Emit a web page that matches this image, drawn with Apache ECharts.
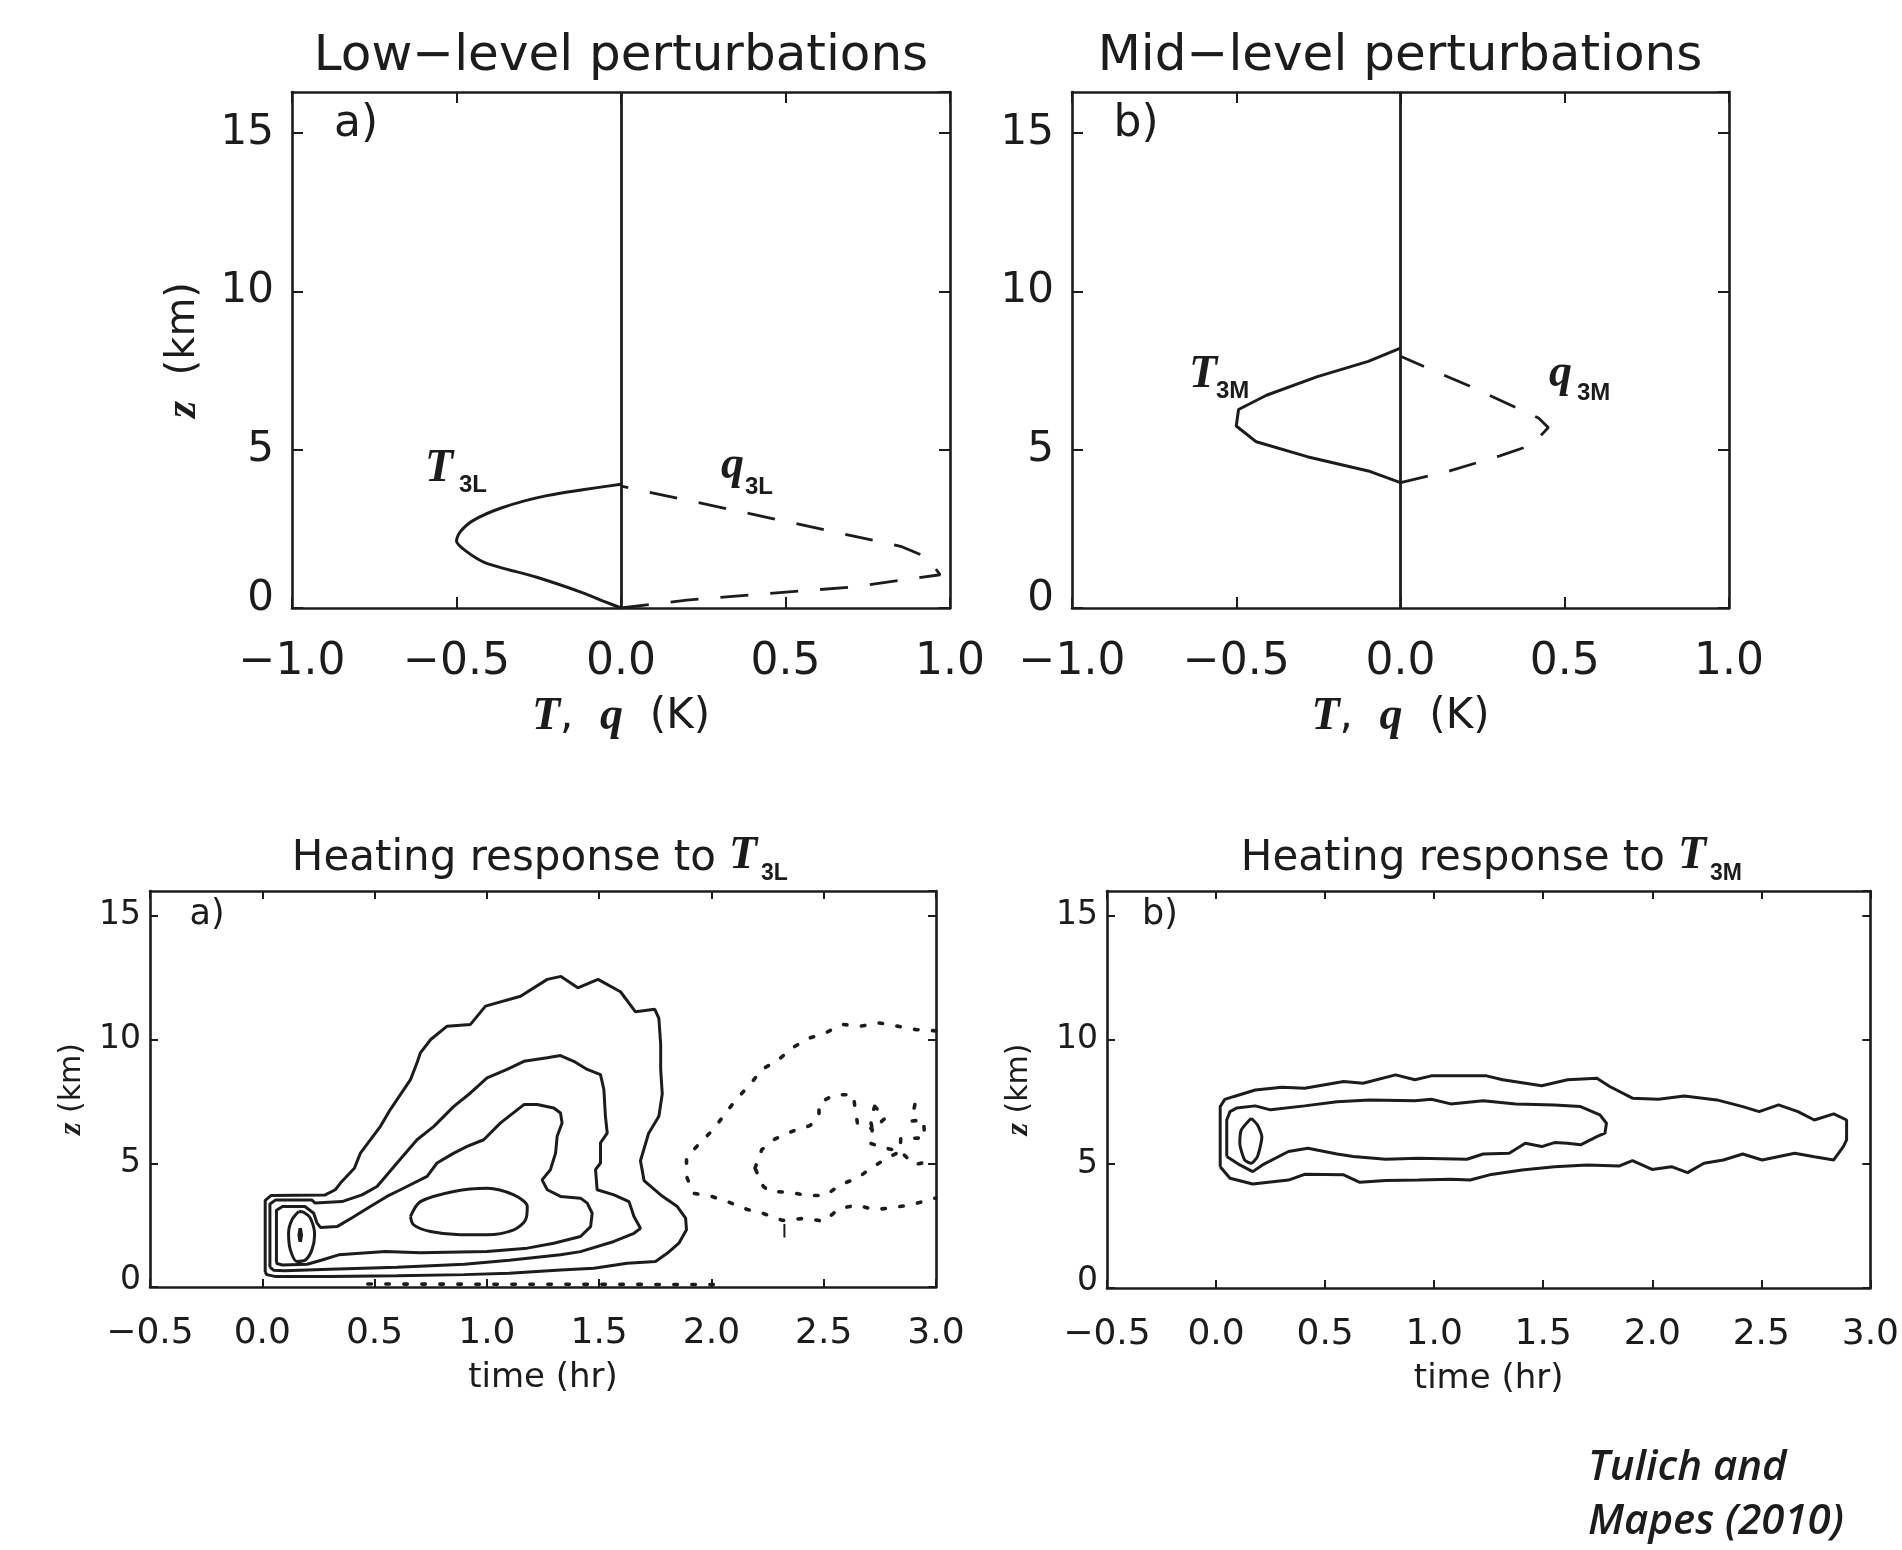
<!DOCTYPE html>
<html>
<head>
<meta charset="utf-8">
<script src="https://cdn.jsdelivr.net/npm/echarts@6/dist/echarts.min.js"></script>
<style>
html, body { margin: 0; padding: 0; background: #ffffff; }
#chart { width: 1902px; height: 1550px; }
</style>
</head>
<body>
<div id="chart"></div>
<script>
// ---- Vertical profiles of the imposed perturbations: [T or q (K), z (km)] ----
const T3L = [[0, 0], [-0.054, 0.22], [-0.116, 0.48], [-0.256, 0.97], [-0.41, 1.42], [-0.47, 1.79],
  [-0.5, 2.12], [-0.49, 2.39], [-0.45, 2.76], [-0.364, 3.16], [-0.225, 3.55], [0, 3.91]];
const q3L = [[0, 0], [0.2, 0.25], [0.4, 0.42], [0.7, 0.66], [0.97, 1.05], [0.93, 1.6], [0.85, 1.95],
  [0.45, 2.85], [0, 3.85]];
const T3M = [[0, 3.96], [-0.098, 4.33], [-0.284, 4.78], [-0.439, 5.25], [-0.5, 5.75], [-0.493, 6.27],
  [-0.408, 6.72], [-0.253, 7.31], [-0.098, 7.79], [0, 8.21]];
const q3M = [[0, 3.96], [0.15, 4.33], [0.3, 4.8], [0.4, 5.15], [0.45, 5.7], [0.42, 6.0], [0.21, 7.01], [0, 7.95]];

// ---- Heating response to T3L: contour lines [time (hr), z (km)] ----
const heatL_c1 = [[0.013, 0.6], [0.013, 3.5], [0.04, 3.7], [0.28, 3.72], [0.325, 3.93], [0.348, 4.2], [0.41, 4.8],
  [0.437, 5.41], [0.526, 6.49], [0.57, 7.17], [0.66, 8.38], [0.689, 9.06], [0.704, 9.46], [0.75, 10.0],
  [0.823, 10.54], [0.927, 10.61], [0.994, 11.35], [1.15, 11.75], [1.269, 12.43], [1.33, 12.55], [1.405, 12.09],
  [1.495, 12.43], [1.595, 11.93], [1.662, 11.12], [1.748, 11.22], [1.766, 10.85], [1.774, 9.8], [1.774, 8.8],
  [1.781, 7.8], [1.766, 6.9], [1.72, 6.2], [1.684, 5.1], [1.7, 4.3], [1.774, 3.72], [1.848, 3.25], [1.885, 2.78],
  [1.889, 2.31], [1.855, 1.77], [1.803, 1.36], [1.751, 1.03], [1.625, 0.96], [1.477, 0.76], [1.328, 0.69],
  [1.1, 0.56], [0.9, 0.5], [0.6, 0.45], [0.3, 0.42], [0.06, 0.42], [0.02, 0.5], [0.013, 0.6]];
const heatL_c2 = [[0.034, 0.8], [0.034, 3.35], [0.06, 3.52], [0.22, 3.52], [0.236, 3.39], [0.355, 3.45],
  [0.444, 3.72], [0.511, 4.06], [0.6, 5.01], [0.689, 5.95], [0.764, 6.49], [0.853, 7.3], [0.927, 7.84],
  [1.001, 8.45], [1.09, 8.79], [1.165, 9.12], [1.269, 9.26], [1.328, 9.35], [1.387, 9.12], [1.447, 8.79],
  [1.506, 8.58], [1.521, 7.98], [1.528, 6.9], [1.536, 6.22], [1.506, 5.82], [1.506, 5.01], [1.484, 4.74],
  [1.491, 3.93], [1.566, 3.72], [1.633, 3.45], [1.655, 2.85], [1.684, 2.37], [1.655, 2.17], [1.566, 1.84],
  [1.417, 1.43], [1.328, 1.3], [1.1, 1.08], [0.9, 0.92], [0.6, 0.8], [0.3, 0.72], [0.1, 0.66], [0.05, 0.68],
  [0.034, 0.8]];
const heatL_c3 = [[0.063, 1.0], [0.063, 3.1], [0.09, 3.25], [0.19, 3.25], [0.229, 2.98], [0.244, 2.58],
  [0.26, 2.4], [0.333, 2.44], [0.4, 2.8], [0.481, 3.25], [0.555, 3.66], [0.615, 3.93], [0.734, 4.47],
  [0.778, 5.01], [0.853, 5.41], [0.912, 5.68], [0.986, 5.95], [1.061, 6.63], [1.165, 7.37], [1.224, 7.37],
  [1.298, 7.23], [1.328, 7.03], [1.335, 6.63], [1.313, 6.09], [1.306, 5.41], [1.283, 4.74], [1.246, 4.33],
  [1.269, 3.93], [1.328, 3.66], [1.417, 3.59], [1.447, 3.39], [1.469, 2.98], [1.462, 2.44], [1.417, 2.04],
  [1.298, 1.77], [1.18, 1.57], [1.0, 1.43], [0.704, 1.38], [0.548, 1.43], [0.34, 1.3], [0.266, 1.09],
  [0.2, 0.92], [0.09, 0.89], [0.065, 0.95], [0.063, 1.0]];
const heatL_c4 = [[0.66, 2.85], [0.704, 3.45], [0.853, 3.86], [1.001, 3.99], [1.12, 3.72], [1.18, 3.25],
  [1.172, 2.71], [1.12, 2.31], [1.001, 2.11], [0.882, 2.11], [0.749, 2.24], [0.674, 2.51], [0.66, 2.85]];
const heatL_c5 = [[0.162, 3.05], [0.132, 2.71], [0.117, 2.17], [0.125, 1.5], [0.155, 1.03], [0.192, 1.09],
  [0.221, 1.5], [0.233, 2.11], [0.214, 2.78], [0.184, 3.02], [0.162, 3.05]];
const heatL_c6 = [[0.169, 2.37], [0.174, 2.1], [0.169, 1.83], [0.164, 2.1], [0.169, 2.37]];
// negative (dotted) contours
const heatL_n1 = [[3.0, 10.35], [2.91, 10.4], [2.828, 10.54], [2.747, 10.67], [2.665, 10.54], [2.583, 10.61],
  [2.509, 10.27], [2.427, 10.03], [2.36, 9.66], [2.294, 9.15], [2.224, 8.79], [2.172, 8.18], [2.112, 7.6],
  [2.06, 6.99], [2.008, 6.36], [1.949, 5.82], [1.889, 5.24], [1.889, 4.47], [1.919, 3.79], [2.001, 3.66],
  [2.083, 3.41], [2.157, 3.14], [2.234, 2.96], [2.316, 2.69], [2.42, 2.78], [2.501, 2.65], [2.568, 3.17],
  [2.65, 3.31], [2.727, 3.12], [2.807, 3.21], [2.888, 3.32], [2.969, 3.52], [3.0, 3.6]];
const heatL_n2 = [[2.194, 4.8], [2.224, 5.55], [2.283, 5.98], [2.36, 6.29], [2.439, 6.52], [2.479, 6.9],
  [2.479, 7.44], [2.551, 7.77], [2.632, 7.77], [2.638, 7.33], [2.65, 6.63], [2.717, 6.38], [2.702, 5.82],
  [2.776, 5.61], [2.843, 5.48], [2.788, 5.24], [2.717, 4.84], [2.65, 4.4], [2.573, 4.13], [2.509, 3.7],
  [2.427, 3.7], [2.345, 3.83], [2.261, 3.86], [2.231, 4.06], [2.194, 4.8]];
const heatL_n3 = [[2.727, 7.3], [2.776, 6.83], [2.717, 6.38], [2.707, 6.76], [2.727, 7.3]];
const heatL_n4 = [[2.906, 7.37], [2.89, 6.7], [2.944, 6.76], [2.95, 6.02], [2.843, 6.0], [2.84, 5.5],
  [2.902, 4.94], [2.96, 5.05]];
const heatL_n5 = [[0.47, 0.12], [2.04, 0.1]];
const heatL_n6 = [[2.325, 2.55], [2.325, 2.0]];

// ---- Heating response to T3M: contour lines [time (hr), z (km)] ----
const heatM_c1 = [[0.019, 4.89], [0.019, 7.31], [0.04, 7.6], [0.079, 7.71], [0.18, 7.98], [0.302, 8.09],
  [0.406, 8.05], [0.585, 8.32], [0.674, 8.25], [0.823, 8.59], [0.912, 8.39], [0.987, 8.55], [1.24, 8.55],
  [1.314, 8.39], [1.493, 8.15], [1.612, 8.39], [1.746, 8.45], [1.805, 8.12], [1.909, 7.65], [2.028, 7.61],
  [2.147, 7.74], [2.296, 7.58], [2.415, 7.31], [2.49, 7.11], [2.579, 7.38], [2.668, 7.11], [2.743, 6.77],
  [2.832, 7.02], [2.891, 6.77], [2.891, 5.97], [2.876, 5.7], [2.832, 5.16], [2.743, 5.29], [2.653, 5.43],
  [2.504, 5.16], [2.415, 5.4], [2.326, 5.16], [2.237, 5.03], [2.162, 4.65], [2.088, 4.89], [1.999, 4.78],
  [1.909, 5.13], [1.85, 4.92], [1.701, 4.96], [1.552, 4.89], [1.403, 4.76], [1.254, 4.56], [1.165, 4.35],
  [1.076, 4.38], [0.927, 4.35], [0.778, 4.33], [0.659, 4.26], [0.585, 4.56], [0.406, 4.58], [0.332, 4.35],
  [0.168, 4.19], [0.064, 4.42], [0.019, 4.89]];
const heatM_c2 = [[0.049, 5.3], [0.049, 6.77], [0.064, 7.11], [0.094, 7.25], [0.18, 7.34], [0.25, 7.18],
  [0.406, 7.34], [0.555, 7.51], [0.704, 7.58], [0.912, 7.55], [0.987, 7.61], [1.076, 7.42], [1.225, 7.55],
  [1.374, 7.42], [1.552, 7.38], [1.671, 7.31], [1.76, 6.98], [1.79, 6.64], [1.783, 6.24], [1.746, 6.1],
  [1.671, 5.77], [1.612, 5.83], [1.552, 5.86], [1.493, 5.7], [1.418, 5.83], [1.344, 5.43], [1.225, 5.4],
  [1.15, 5.19], [0.927, 5.23], [0.778, 5.19], [0.629, 5.3], [0.555, 5.4], [0.421, 5.63], [0.332, 5.5],
  [0.213, 4.96], [0.168, 4.69], [0.109, 4.96], [0.049, 5.3]];
const heatM_c3 = [[0.161, 6.84], [0.116, 6.37], [0.109, 5.83], [0.131, 5.16], [0.161, 5.03], [0.19, 5.3],
  [0.21, 6.1], [0.19, 6.57], [0.161, 6.84]];

// ---- axis ranges and ticks ----
const profileX = [-1, 1, 0.5];     // min, max, interval (K)
const profileZ = [0, 16.3, 5];     // km
const timeX = [-0.5, 3.0, 0.5];    // hr
const heatZ = [0, 16, 5];          // km

const SANS = '"DejaVu Sans", "Liberation Sans", sans-serif';
const SERIF = '"Liberation Serif", "DejaVu Serif", serif';
const INK = '#1c1c1c';

const grids = [
  { left: 292, top: 92, width: 658, height: 516 },
  { left: 1072, top: 92, width: 657, height: 516 },
  { left: 150, top: 891, width: 786, height: 396 },
  { left: 1107, top: 891, width: 784, height: 397 }
];

const fmtX = v => v.toFixed(1).replace('-', '\u2212');

function xAxesFor(gi, range, s) {
  const common = {
    type: 'value', gridIndex: gi, min: range[0], max: range[1], interval: range[2],
    splitLine: { show: false },
    axisLine: { show: true, onZero: false, lineStyle: { color: INK, width: 2.6 } },
    axisTick: { show: true, inside: true, length: s.tick, lineStyle: { color: INK, width: 2 } }
  };
  return [
    Object.assign({}, common, {
      position: 'bottom',
      axisLabel: { show: true, formatter: fmtX, fontFamily: SANS, fontSize: s.label, color: INK, margin: s.xMargin },
      name: s.xName, nameLocation: 'middle', nameGap: s.xGap,
      nameTextStyle: { fontFamily: SANS, fontSize: s.xNameSize, color: INK, rich: s.xRich }
    }),
    Object.assign({}, common, { position: 'top', axisLabel: { show: false } })
  ];
}

function yAxesFor(gi, range, s) {
  const common = {
    type: 'value', gridIndex: gi, min: range[0], max: range[1], interval: range[2],
    splitLine: { show: false },
    axisLine: { show: true, onZero: false, lineStyle: { color: INK, width: 2.6 } },
    axisTick: { show: true, inside: true, length: s.tick, lineStyle: { color: INK, width: 2 } }
  };
  const left = Object.assign({}, common, {
    position: 'left',
    axisLabel: {
      show: true, showMaxLabel: false, fontFamily: SANS, fontSize: s.ylabel, color: INK, margin: s.yMargin,
      formatter: v => (v === 0 ? '{lo|0}' : String(v)),
      rich: { lo: { fontFamily: SANS, fontSize: s.ylabel, color: INK, padding: [0, 0, s.zeroLift, 0] } }
    }
  });
  if (s.yName) {
    Object.assign(left, {
      name: s.yName, nameLocation: 'middle', nameGap: s.yGap,
      nameTextStyle: { fontFamily: SANS, fontSize: s.yNameSize, color: INK, rich: s.yRich }
    });
  }
  return [left, Object.assign({}, common, { position: 'right', axisLabel: { show: false } })];
}

const italicRich = (size, nsize) => ({
  i: { fontFamily: SERIF, fontStyle: 'italic', fontWeight: 'bold', fontSize: size, color: INK },
  n: { fontFamily: SANS, fontSize: nsize, color: INK }
});

const topStyle = {
  tick: 11, label: 44, ylabel: 42, xMargin: 33, yMargin: 18, zeroLift: 18,
  xName: '{i|T}{n|,  }{i|q}{n|  (K)}', xGap: 86, xNameSize: 42, xRich: italicRich(46, 42),
  yName: '{i|z}{n|  (km)}', yGap: 86, yNameSize: 42, yRich: italicRich(44, 40)
};
const botStyle = {
  tick: 8, label: 36, ylabel: 33, xMargin: 29, yMargin: 9, zeroLift: 14,
  xName: 'time (hr)', xGap: 74, xNameSize: 34, xRich: {},
  yName: '{i|z}{n| (km)}', yGap: 62, yNameSize: 30, yRich: italicRich(32, 30)
};

const xAxis = [].concat(
  xAxesFor(0, profileX, topStyle),
  xAxesFor(1, profileX, topStyle),
  xAxesFor(2, timeX, botStyle),
  xAxesFor(3, timeX, botStyle)
);
const yAxis = [].concat(
  yAxesFor(0, profileZ, topStyle),
  yAxesFor(1, profileZ, Object.assign({}, topStyle, { yName: null })),
  yAxesFor(2, heatZ, botStyle),
  yAxesFor(3, heatZ, Object.assign({}, botStyle, { yGap: 72 }))
);

function curve(gi, data, style, extra) {
  return Object.assign({
    type: 'line', xAxisIndex: gi * 2, yAxisIndex: gi * 2, data: data,
    showSymbol: false, symbol: 'none', silent: true, animation: false, smooth: false,
    lineStyle: Object.assign({ color: INK, width: 3, type: 'solid' }, style)
  }, extra || {});
}

const zeroLine = {
  silent: true, symbol: 'none', animation: false, label: { show: false },
  lineStyle: { color: INK, width: 2.8, type: 'solid' },
  data: [{ xAxis: 0 }]
};
const dashed = { type: [28, 22], width: 2.8 };
const dotted = { type: [3.5, 14.5], width: 3.6, cap: 'round' };

const series = [
  curve(0, T3L, {}, { smooth: 0.25, markLine: zeroLine }),
  curve(0, q3L, dashed),
  curve(1, T3M, {}, { markLine: zeroLine }),
  curve(1, q3M, dashed),
  curve(2, heatL_c1, {}), curve(2, heatL_c2, {}), curve(2, heatL_c3, {}),
  curve(2, heatL_c4, {}, { smooth: 0.3 }), curve(2, heatL_c5, {}, { smooth: 0.3 }),
  curve(2, heatL_c6, { width: 3.4 }),
  curve(2, heatL_n1, dotted), curve(2, heatL_n2, dotted), curve(2, heatL_n3, dotted),
  curve(2, heatL_n4, dotted), curve(2, heatL_n5, dotted), curve(2, heatL_n6, { width: 2 }),
  curve(3, heatM_c1, {}), curve(3, heatM_c2, {}), curve(3, heatM_c3, {}, { smooth: 0.2 })
];

function txt(x, y, text, font, align, extra) {
  return {
    type: 'text', x: x, y: y, silent: true,
    style: Object.assign({
      text: text, font: font, fill: INK,
      textAlign: align || 'center', textVerticalAlign: 'middle',
      align: align || 'center', verticalAlign: 'middle'
    }, extra || {})
  };
}
const serifBI = s => 'italic bold ' + s + 'px ' + SERIF;
const sansBold = s => 'bold ' + s + 'px "Liberation Sans", sans-serif';
const sans = s => s + 'px ' + SANS;
const noteFont = 'italic 600 42px "Open Sans", sans-serif';

const graphic = [
  txt(621, 57, 'Low\u2212level perturbations', sans(50)),
  txt(1400, 57, 'Mid\u2212level perturbations', sans(50)),
  txt(356, 125, 'a)', sans(44)),
  txt(1136, 125, 'b)', sans(44)),
  // profile labels
  txt(425, 469, 'T', serifBI(46), 'left'),
  txt(459, 485, '3L', sansBold(24), 'left'),
  txt(721, 466, 'q', serifBI(46), 'left'),
  txt(745, 487, '3L', sansBold(24), 'left'),
  txt(1189, 375, 'T', serifBI(46), 'left'),
  txt(1216, 391, '3M', sansBold(24), 'left'),
  txt(1549, 374, 'q', serifBI(46), 'left'),
  txt(1577, 393, '3M', sansBold(24), 'left'),
  // lower panel titles
  txt(716, 859, 'Heating response to', sans(42), 'right'),
  txt(729, 856, 'T', serifBI(46), 'left'),
  txt(761, 874, '3L', sansBold(23), 'left'),
  txt(1665, 859, 'Heating response to', sans(42), 'right'),
  txt(1678, 856, 'T', serifBI(46), 'left'),
  txt(1710, 874, '3M', sansBold(23), 'left'),
  txt(207, 915, 'a)', sans(35)),
  txt(1160, 915, 'b)', sans(35)),
  // source note
  txt(1588, 1468, 'Tulich and', noteFont, 'left'),
  txt(1588, 1522, 'Mapes (2010)', noteFont, 'left')
];

const chart = echarts.init(document.getElementById('chart'), null, { renderer: 'canvas' });
chart.setOption({
  backgroundColor: '#ffffff',
  animation: false,
  grid: grids.map(g => Object.assign({ containLabel: false }, g)),
  xAxis: xAxis,
  yAxis: yAxis,
  series: series,
  graphic: graphic
});
</script>
</body>
</html>
